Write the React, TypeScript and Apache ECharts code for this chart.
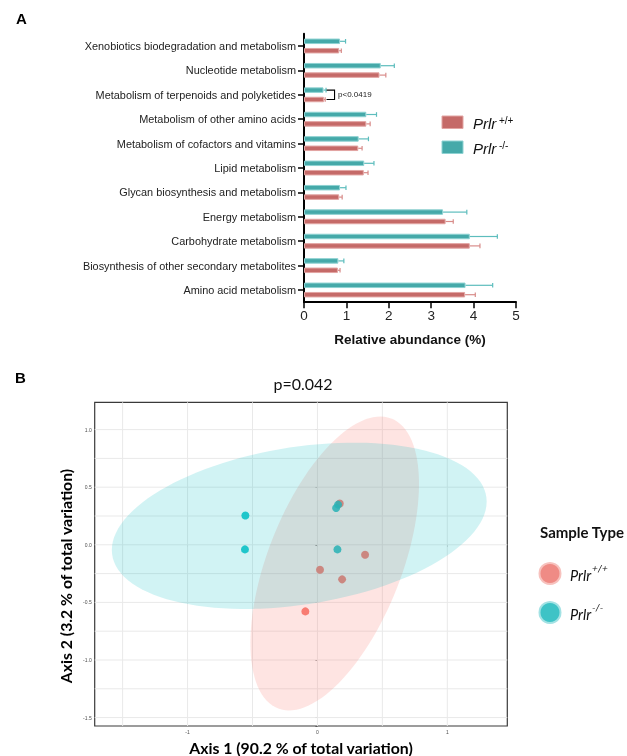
import React, { useEffect, useRef } from "react";
import * as echarts from "echarts";

// ---------- Panel A data (top-to-bottom order) ----------
const categories = [
  "Xenobiotics biodegradation and metabolism",
  "Nucleotide metabolism",
  "Metabolism of terpenoids and polyketides",
  "Metabolism of other amino acids",
  "Metabolism of cofactors and vitamins",
  "Lipid metabolism",
  "Glycan biosynthesis and metabolism",
  "Energy metabolism",
  "Carbohydrate metabolism",
  "Biosynthesis of other secondary metabolites",
  "Amino acid metabolism",
];
const koMean = [0.85, 1.81, 0.46, 1.47, 1.29, 1.42, 0.85, 3.28, 3.91, 0.81, 3.81];
const koErr = [0.13, 0.32, 0.06, 0.24, 0.23, 0.23, 0.14, 0.56, 0.65, 0.13, 0.64];
const wtMean = [0.83, 1.78, 0.47, 1.47, 1.28, 1.41, 0.83, 3.34, 3.91, 0.8, 3.8];
const wtErr = [0.05, 0.15, 0.03, 0.09, 0.09, 0.1, 0.07, 0.18, 0.24, 0.05, 0.24];
const sigIndex = 2;
const sigLabel = "p<0.0419";

// ---------- Panel B data ----------
const wtPoints = [
  [0.172, 0.358],
  [0.367, -0.087],
  [0.02, -0.217],
  [0.19, -0.3],
  [-0.093, -0.578],
];
const koPoints = [
  [-0.555, 0.254],
  [-0.558, -0.04],
  [0.154, -0.04],
  [0.144, 0.32],
  [0.159, 0.349],
];
// [centerX, centerY, varX, covXY, varY] in data units (wild type, knockout)
const ellipses = [
  [0.133, -0.162, 0.4212, 0.4483, 1.627],
  [-0.14, 0.165, 2.083, 0.303, 0.521],
];
const xGridB = [-1.5, -1, -0.5, 0, 0.5, 1];
const yGridB = [-1.5, -1.25, -1, -0.75, -0.5, -0.25, 0, 0.25, 0.5, 0.75, 1];
const pText = "p=0.042";
const yTitleB = "Axis 2 (3.2 % of total variation)";

const RED = "#C56A68";
const RED_EDGE = "#E2A4A2";
const RED_ERR = "#D88C8A";
const TEAL = "#45A9A9";
const TEAL_EDGE = "#8ED2D2";
const TEAL_ERR = "#5DBDBD";
const GG_RED = "#F8766D";
const GG_TEAL = "#00BFC4";

const ARIAL = "Liberation Sans, Arial, sans-serif";
const CAL = "Lato, Open Sans, sans-serif";

export default function App() {
  const ref = useRef<HTMLDivElement>(null);
  useEffect(() => {
    if (!ref.current) return;
    const chart = echarts.init(ref.current, undefined, { renderer: "svg" });
    const barOffset = 4.7;

    const errSeries = (mean: number[], err: number[], color: string, off: number) => ({
      type: "custom",
      xAxisIndex: 0,
      yAxisIndex: 0,
      z: 4,
      silent: true,
      encode: { x: 1, y: 0 },
      data: mean.map((m, i) => [i, m, err[i]]),
      renderItem: (params: any, api: any) => {
        const c = api.value(0);
        const m = api.value(1);
        const e = api.value(2);
        const p0 = api.coord([m, c]);
        const p1 = api.coord([m + e, c]);
        const y = p0[1] + off;
        return {
          type: "group",
          children: [
            { type: "line", shape: { x1: p0[0], y1: y, x2: p1[0], y2: y }, style: { stroke: color, lineWidth: 1.2 } },
            { type: "line", shape: { x1: p1[0], y1: y - 2.3, x2: p1[0], y2: y + 2.3 }, style: { stroke: color, lineWidth: 1.2 } },
          ],
        };
      },
    });

    const option: any = {
      animation: false,
      textStyle: { fontFamily: ARIAL },
      grid: [
        { left: 304, top: 33.8, width: 212, height: 268.4, containLabel: false },
        { left: 94.7, top: 402.3, width: 412.6, height: 323.7, show: true, borderColor: "#3a3a3a", borderWidth: 1.2, backgroundColor: "#fff" },
      ],
      xAxis: [
        {
          gridIndex: 0,
          type: "value",
          min: 0,
          max: 5,
          interval: 1,
          axisLine: { show: true, lineStyle: { color: "#000", width: 2 } },
          axisTick: { show: true, length: 6, lineStyle: { color: "#000", width: 1.5 } },
          axisLabel: { fontSize: 13.5, color: "#222", margin: 6, fontFamily: ARIAL },
          splitLine: { show: false },
          name: "Relative abundance (%)",
          nameLocation: "middle",
          nameGap: 30,
          nameTextStyle: { fontSize: 13.5, fontWeight: "bold", color: "#111", fontFamily: ARIAL },
        },
        {
          gridIndex: 1,
          type: "value",
          min: -1.715,
          max: 1.462,
          splitNumber: 3,
          axisLine: { show: false },
          axisTick: { show: true, length: 2, lineStyle: { color: "#444", width: 0.8 } },
          axisLabel: {
            fontSize: 5,
            color: "#4d4d4d",
            margin: 3,
            fontFamily: ARIAL,
            formatter: (v: number) => (Math.abs(v - Math.round(v)) < 1e-6 ? String(Math.round(v)) : ""),
          },
          splitLine: { show: false },
          name: "Axis 1 (90.2 % of total variation)",
          nameLocation: "middle",
          nameGap: 13,
          nameTextStyle: { fontSize: 15.8, fontWeight: "bold", color: "#000", fontFamily: CAL },
        },
      ],
      yAxis: [
        {
          gridIndex: 0,
          type: "category",
          inverse: true,
          data: categories,
          axisLine: { show: true, lineStyle: { color: "#000", width: 2 } },
          axisTick: { show: true, length: 6, alignWithLabel: true, lineStyle: { color: "#000", width: 1.5 } },
          axisLabel: { fontSize: 10.9, color: "#222", margin: 8, fontFamily: ARIAL },
        },
        {
          gridIndex: 1,
          type: "value",
          min: -1.573,
          max: 1.237,
          splitNumber: 5,
          axisLine: { show: false },
          axisTick: { show: true, length: 2, lineStyle: { color: "#444", width: 0.8 } },
          axisLabel: {
            fontSize: 5,
            color: "#4d4d4d",
            margin: 3,
            fontFamily: ARIAL,
            formatter: (v: number) => (Math.abs(v * 2 - Math.round(v * 2)) < 1e-6 ? v.toFixed(1) : ""),
          },
          splitLine: { show: false },
        },
      ],
      series: [
        {
          type: "bar",
          name: "Prlr -/-",
          xAxisIndex: 0,
          yAxisIndex: 0,
          data: koMean,
          barWidth: 5.5,
          barGap: "71%",
          itemStyle: { color: TEAL, borderColor: TEAL_EDGE, borderWidth: 1 },
          z: 3,
        },
        {
          type: "bar",
          name: "Prlr +/+",
          xAxisIndex: 0,
          yAxisIndex: 0,
          data: wtMean,
          barWidth: 5.5,
          barGap: "71%",
          itemStyle: { color: RED, borderColor: RED_EDGE, borderWidth: 1 },
          z: 3,
        },
        errSeries(koMean, koErr, TEAL_ERR, -barOffset),
        errSeries(wtMean, wtErr, RED_ERR, barOffset),
        {
          type: "custom",
          xAxisIndex: 0,
          yAxisIndex: 0,
          z: 5,
          silent: true,
          encode: { x: 1, y: 0 },
          data: [[sigIndex, Math.max(koMean[sigIndex] + koErr[sigIndex], wtMean[sigIndex] + wtErr[sigIndex])]],
          renderItem: (params: any, api: any) => {
            const p = api.coord([api.value(1), api.value(0)]);
            const x0 = p[0] + 0.5;
            const x1 = x0 + 8;
            const yT = p[1] - barOffset;
            const yB = p[1] + barOffset;
            return {
              type: "group",
              children: [
                { type: "polyline", shape: { points: [[x0, yT], [x1, yT], [x1, yB], [x0, yB]] }, style: { stroke: "#000", lineWidth: 1.1, fill: "none" } },
                { type: "text", style: { x: x1 + 3.5, y: p[1], text: sigLabel, fontSize: 8, fontFamily: ARIAL, fill: "#222", verticalAlign: "middle", align: "left" } },
              ],
            };
          },
        },
        // Panel B gridlines
        {
          type: "custom",
          xAxisIndex: 1,
          yAxisIndex: 1,
          z: 1,
          silent: true,
          encode: { x: 0, y: 1 },
          data: [
            ...xGridB.map((v) => [v, 0, 0]),
            ...yGridB.map((v) => [0, v, 1]),
          ],
          renderItem: (params: any, api: any) => {
            const cs = params.coordSys;
            const p = api.coord([api.value(0), api.value(1)]);
            const vertical = api.value(2) === 0;
            const shape = vertical
              ? { x1: p[0], y1: cs.y, x2: p[0], y2: cs.y + cs.height }
              : { x1: cs.x, y1: p[1], x2: cs.x + cs.width, y2: p[1] };
            return { type: "line", shape, style: { stroke: "#e9e9e9", lineWidth: 1 } };
          },
        },
        {
          type: "scatter",
          xAxisIndex: 1,
          yAxisIndex: 1,
          data: wtPoints,
          symbolSize: 8,
          itemStyle: { color: GG_RED, opacity: 0.95 },
          z: 2,
        },
        {
          type: "scatter",
          xAxisIndex: 1,
          yAxisIndex: 1,
          data: koPoints,
          symbolSize: 8,
          itemStyle: { color: GG_TEAL, opacity: 0.85 },
          z: 2,
        },
        {
          type: "custom",
          xAxisIndex: 1,
          yAxisIndex: 1,
          z: 3,
          silent: true,
          encode: { x: 0, y: 1 },
          data: ellipses,
          renderItem: (params: any, api: any) => {
            const cx = api.value(0);
            const cy = api.value(1);
            const sxx = api.value(2);
            const sxy = api.value(3);
            const syy = api.value(4);
            const l11 = Math.sqrt(sxx);
            const l21 = sxy / l11;
            const l22 = Math.sqrt(syy - l21 * l21);
            const pts: number[][] = [];
            const n = 120;
            for (let k = 0; k < n; k++) {
              const t = (2 * Math.PI * k) / n;
              pts.push(api.coord([cx + l11 * Math.cos(t), cy + l21 * Math.cos(t) + l22 * Math.sin(t)]));
            }
            const fills = ["rgba(248,118,109,0.2)", "rgba(0,191,196,0.18)"];
            return { type: "polygon", shape: { points: pts }, style: { fill: fills[params.dataIndex] } };
          },
        },
      ],
      graphic: [
        { type: "text", left: 16, top: 11, style: { text: "A", fontSize: 15, fontWeight: "bold", fontFamily: ARIAL, fill: "#000" } },
        { type: "text", left: 15, top: 370, style: { text: "B", fontSize: 15, fontWeight: "bold", fontFamily: ARIAL, fill: "#000" } },
        // Legend A
        { type: "rect", shape: { x: 442, y: 116, width: 21, height: 12.5 }, style: { fill: RED, stroke: RED_EDGE, lineWidth: 1 } },
        { type: "text", x: 473, y: 123, style: { text: "Prlr", fontSize: 15, fontStyle: "italic", fontFamily: ARIAL, fill: "#111", verticalAlign: "middle" } },
        { type: "text", x: 499, y: 120, style: { text: "+/+", fontSize: 10, fontFamily: ARIAL, fill: "#111", verticalAlign: "middle" } },
        { type: "rect", shape: { x: 442, y: 141, width: 21, height: 12.5 }, style: { fill: TEAL, stroke: TEAL_EDGE, lineWidth: 1 } },
        { type: "text", x: 473, y: 148, style: { text: "Prlr", fontSize: 15, fontStyle: "italic", fontFamily: ARIAL, fill: "#111", verticalAlign: "middle" } },
        { type: "text", x: 499, y: 145, style: { text: "-/-", fontSize: 10, fontFamily: ARIAL, fill: "#111", verticalAlign: "middle" } },
        // Panel B title and y-axis title
        { type: "text", x: 303, y: 383, style: { text: pText, fontSize: 16, fontFamily: CAL, fill: "#111", align: "center", verticalAlign: "middle" } },
        { type: "text", x: 65, y: 576, rotation: Math.PI / 2, style: { text: yTitleB, fontSize: 15.8, fontWeight: "bold", fontFamily: CAL, fill: "#000", align: "center", verticalAlign: "middle" } },
        // Legend B
        { type: "text", x: 540, y: 532, style: { text: "Sample Type", fontSize: 15, fontWeight: "bold", fontFamily: CAL, fill: "#111", verticalAlign: "middle" } },
        { type: "circle", shape: { cx: 550, cy: 573.5, r: 10.5 }, style: { fill: "#EF8B85", stroke: "#F7C2BE", lineWidth: 2 } },
        { type: "text", x: 570, y: 575, style: { text: "Prlr", fontSize: 14.5, fontStyle: "italic", fontFamily: CAL, fill: "#111", verticalAlign: "middle" } },
        { type: "text", x: 592, y: 568, style: { text: "+/+", fontSize: 10, fontStyle: "italic", fontFamily: CAL, fill: "#111", verticalAlign: "middle" } },
        { type: "circle", shape: { cx: 550, cy: 612.5, r: 10.5 }, style: { fill: "#3EC3C6", stroke: "#A3E2E4", lineWidth: 2 } },
        { type: "text", x: 570, y: 614, style: { text: "Prlr", fontSize: 14.5, fontStyle: "italic", fontFamily: CAL, fill: "#111", verticalAlign: "middle" } },
        { type: "text", x: 592, y: 607, style: { text: "-/-", fontSize: 10, fontStyle: "italic", fontFamily: CAL, fill: "#111", verticalAlign: "middle" } },
      ],
    };
    chart.setOption(option);
    return () => chart.dispose();
  }, []);
  return <div ref={ref} style={{ position: "fixed", left: 0, top: 0, width: 627, height: 756 }} />;
}
